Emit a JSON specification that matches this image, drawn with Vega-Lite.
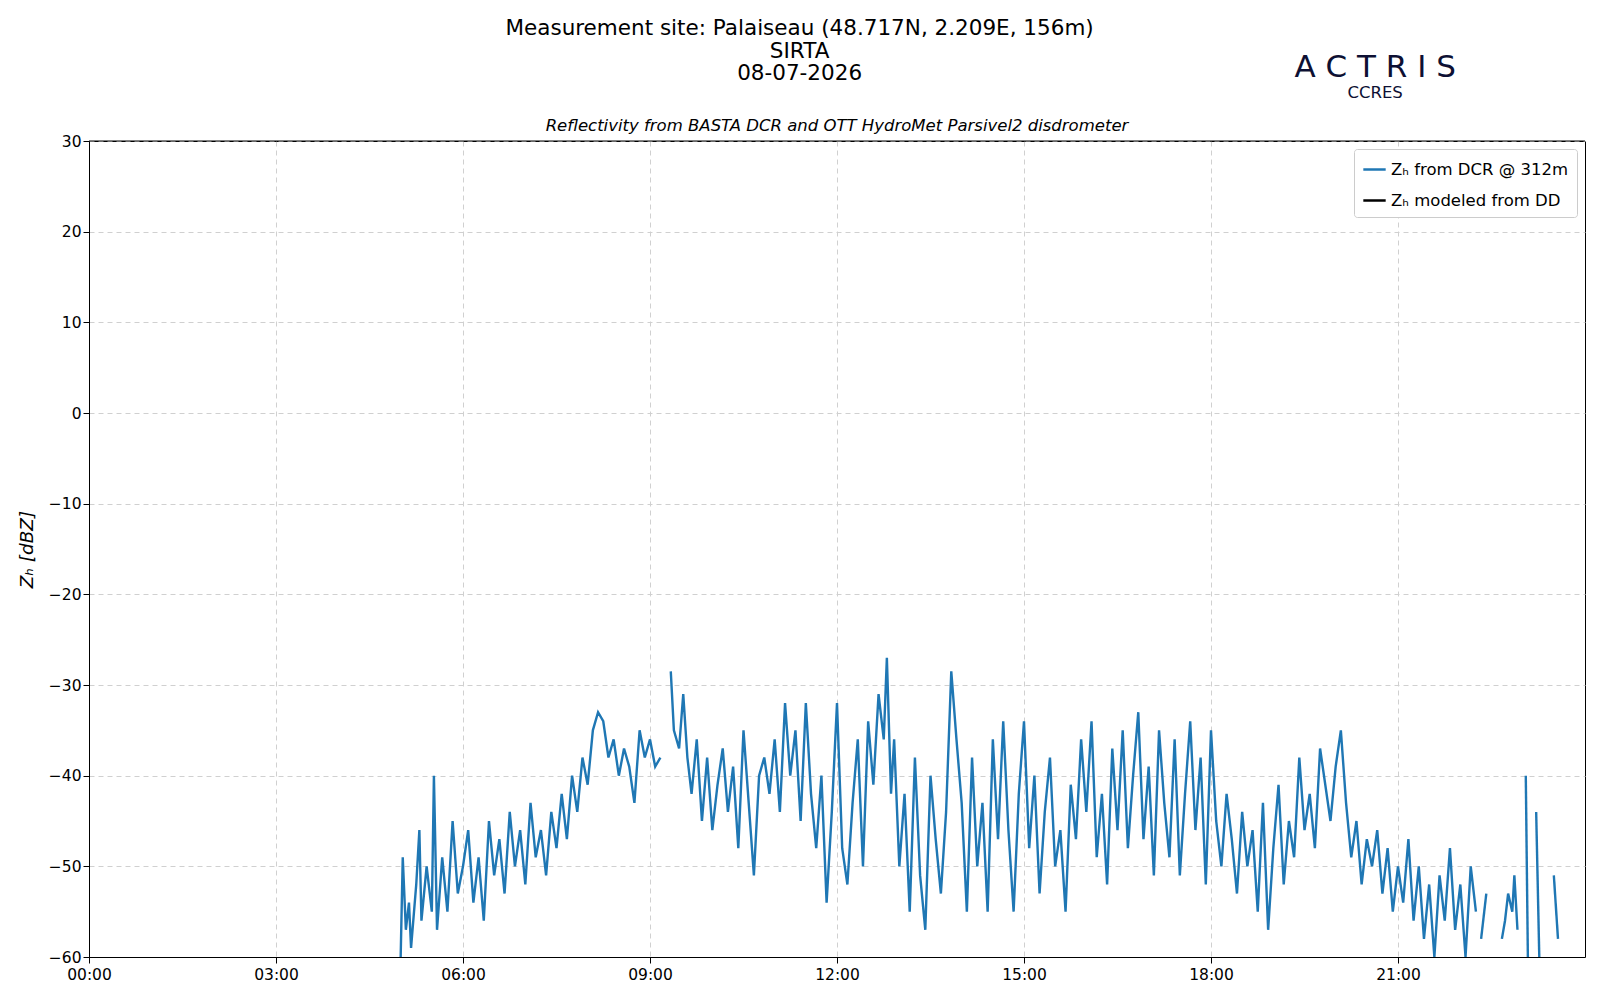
{
  "$schema": "https://vega.github.io/schema/vega-lite/v6.json",
  "width": 1496,
  "height": 816,
  "autosize": {"type": "none"},
  "padding": {"left": 89, "top": 141, "right": 15, "bottom": 43},
  "background": "white",
  "config": {
    "font": "DejaVu Sans",
    "view": {"stroke": "black", "strokeWidth": 1},
    "axis": {"labelFont": "DejaVu Sans", "titleFont": "DejaVu Sans", "labelFontSize": 15.5, "labelColor": "black", "domainColor": "black", "tickColor": "black", "gridColor": "#d0d0d0", "gridDash": [5, 4], "labelFlush": false}
  },
  "datasets": {
    "zh": [
      {"s": 1, "m": 300, "z": -60}, {"s": 1, "m": 302, "z": -49}, {"s": 1, "m": 305, "z": -57}, {"s": 1, "m": 308, "z": -54}, {"s": 1, "m": 310, "z": -59}, {"s": 1, "m": 315, "z": -52}, {"s": 1, "m": 318, "z": -46}, {"s": 1, "m": 320, "z": -56}, {"s": 1, "m": 325, "z": -50}, {"s": 1, "m": 330, "z": -55}, {"s": 1, "m": 332, "z": -40}, {"s": 1, "m": 335, "z": -57}, {"s": 1, "m": 340, "z": -49}, {"s": 1, "m": 345, "z": -55}, {"s": 1, "m": 350, "z": -45}, {"s": 1, "m": 355, "z": -53}, {"s": 1, "m": 360, "z": -50}, {"s": 1, "m": 365, "z": -46}, {"s": 1, "m": 370, "z": -54}, {"s": 1, "m": 375, "z": -49}, {"s": 1, "m": 380, "z": -56}, {"s": 1, "m": 385, "z": -45}, {"s": 1, "m": 390, "z": -51}, {"s": 1, "m": 395, "z": -47}, {"s": 1, "m": 400, "z": -53}, {"s": 1, "m": 405, "z": -44}, {"s": 1, "m": 410, "z": -50}, {"s": 1, "m": 415, "z": -46}, {"s": 1, "m": 420, "z": -52}, {"s": 1, "m": 425, "z": -43}, {"s": 1, "m": 430, "z": -49}, {"s": 1, "m": 435, "z": -46}, {"s": 1, "m": 440, "z": -51}, {"s": 1, "m": 445, "z": -44}, {"s": 1, "m": 450, "z": -48}, {"s": 1, "m": 455, "z": -42}, {"s": 1, "m": 460, "z": -47}, {"s": 1, "m": 465, "z": -40}, {"s": 1, "m": 470, "z": -44}, {"s": 1, "m": 475, "z": -38}, {"s": 1, "m": 480, "z": -41}, {"s": 1, "m": 485, "z": -35}, {"s": 1, "m": 490, "z": -33}, {"s": 1, "m": 495, "z": -34}, {"s": 1, "m": 500, "z": -38}, {"s": 1, "m": 505, "z": -36}, {"s": 1, "m": 510, "z": -40}, {"s": 1, "m": 515, "z": -37}, {"s": 1, "m": 520, "z": -39}, {"s": 1, "m": 525, "z": -43}, {"s": 1, "m": 530, "z": -35}, {"s": 1, "m": 535, "z": -38}, {"s": 1, "m": 540, "z": -36}, {"s": 1, "m": 545, "z": -39}, {"s": 1, "m": 550, "z": -38},
      {"s": 2, "m": 560, "z": -28.5}, {"s": 2, "m": 563, "z": -35}, {"s": 2, "m": 568, "z": -37}, {"s": 2, "m": 572, "z": -31}, {"s": 2, "m": 576, "z": -38}, {"s": 2, "m": 580, "z": -42}, {"s": 2, "m": 585, "z": -36}, {"s": 2, "m": 590, "z": -45}, {"s": 2, "m": 595, "z": -38}, {"s": 2, "m": 600, "z": -46}, {"s": 2, "m": 605, "z": -41}, {"s": 2, "m": 610, "z": -37}, {"s": 2, "m": 615, "z": -44}, {"s": 2, "m": 620, "z": -39}, {"s": 2, "m": 625, "z": -48}, {"s": 2, "m": 630, "z": -35}, {"s": 2, "m": 635, "z": -43}, {"s": 2, "m": 640, "z": -51}, {"s": 2, "m": 645, "z": -40}, {"s": 2, "m": 650, "z": -38}, {"s": 2, "m": 655, "z": -42}, {"s": 2, "m": 660, "z": -36}, {"s": 2, "m": 665, "z": -44}, {"s": 2, "m": 670, "z": -32}, {"s": 2, "m": 675, "z": -40}, {"s": 2, "m": 680, "z": -35}, {"s": 2, "m": 685, "z": -45}, {"s": 2, "m": 690, "z": -32}, {"s": 2, "m": 695, "z": -42}, {"s": 2, "m": 700, "z": -48}, {"s": 2, "m": 705, "z": -40}, {"s": 2, "m": 710, "z": -54}, {"s": 2, "m": 715, "z": -44}, {"s": 2, "m": 720, "z": -32}, {"s": 2, "m": 725, "z": -48}, {"s": 2, "m": 730, "z": -52}, {"s": 2, "m": 735, "z": -43}, {"s": 2, "m": 740, "z": -36}, {"s": 2, "m": 745, "z": -50}, {"s": 2, "m": 750, "z": -34}, {"s": 2, "m": 755, "z": -41}, {"s": 2, "m": 760, "z": -31}, {"s": 2, "m": 765, "z": -36}, {"s": 2, "m": 768, "z": -27}, {"s": 2, "m": 772, "z": -42}, {"s": 2, "m": 775, "z": -36}, {"s": 2, "m": 780, "z": -50}, {"s": 2, "m": 785, "z": -42}, {"s": 2, "m": 790, "z": -55}, {"s": 2, "m": 795, "z": -38}, {"s": 2, "m": 800, "z": -51}, {"s": 2, "m": 805, "z": -57}, {"s": 2, "m": 810, "z": -40}, {"s": 2, "m": 815, "z": -47}, {"s": 2, "m": 820, "z": -53}, {"s": 2, "m": 825, "z": -44}, {"s": 2, "m": 830, "z": -28.5}, {"s": 2, "m": 835, "z": -36}, {"s": 2, "m": 840, "z": -43}, {"s": 2, "m": 845, "z": -55}, {"s": 2, "m": 850, "z": -38}, {"s": 2, "m": 855, "z": -50}, {"s": 2, "m": 860, "z": -43}, {"s": 2, "m": 865, "z": -55}, {"s": 2, "m": 870, "z": -36}, {"s": 2, "m": 875, "z": -47}, {"s": 2, "m": 880, "z": -34}, {"s": 2, "m": 885, "z": -46}, {"s": 2, "m": 890, "z": -55}, {"s": 2, "m": 895, "z": -42}, {"s": 2, "m": 900, "z": -34}, {"s": 2, "m": 905, "z": -48}, {"s": 2, "m": 910, "z": -40}, {"s": 2, "m": 915, "z": -53}, {"s": 2, "m": 920, "z": -44}, {"s": 2, "m": 925, "z": -38}, {"s": 2, "m": 930, "z": -50}, {"s": 2, "m": 935, "z": -46}, {"s": 2, "m": 940, "z": -55}, {"s": 2, "m": 945, "z": -41}, {"s": 2, "m": 950, "z": -47}, {"s": 2, "m": 955, "z": -36}, {"s": 2, "m": 960, "z": -44}, {"s": 2, "m": 965, "z": -34}, {"s": 2, "m": 970, "z": -49}, {"s": 2, "m": 975, "z": -42}, {"s": 2, "m": 980, "z": -52}, {"s": 2, "m": 985, "z": -37}, {"s": 2, "m": 990, "z": -46}, {"s": 2, "m": 995, "z": -35}, {"s": 2, "m": 1000, "z": -48}, {"s": 2, "m": 1005, "z": -40}, {"s": 2, "m": 1010, "z": -33}, {"s": 2, "m": 1015, "z": -47}, {"s": 2, "m": 1020, "z": -39}, {"s": 2, "m": 1025, "z": -51}, {"s": 2, "m": 1030, "z": -35}, {"s": 2, "m": 1035, "z": -43}, {"s": 2, "m": 1040, "z": -49}, {"s": 2, "m": 1045, "z": -36}, {"s": 2, "m": 1050, "z": -51}, {"s": 2, "m": 1055, "z": -42}, {"s": 2, "m": 1060, "z": -34}, {"s": 2, "m": 1065, "z": -46}, {"s": 2, "m": 1070, "z": -38}, {"s": 2, "m": 1075, "z": -52}, {"s": 2, "m": 1080, "z": -35}, {"s": 2, "m": 1085, "z": -45}, {"s": 2, "m": 1090, "z": -50}, {"s": 2, "m": 1095, "z": -42}, {"s": 2, "m": 1100, "z": -47}, {"s": 2, "m": 1105, "z": -53}, {"s": 2, "m": 1110, "z": -44}, {"s": 2, "m": 1115, "z": -50}, {"s": 2, "m": 1120, "z": -46}, {"s": 2, "m": 1125, "z": -55}, {"s": 2, "m": 1130, "z": -43}, {"s": 2, "m": 1135, "z": -57}, {"s": 2, "m": 1140, "z": -48}, {"s": 2, "m": 1145, "z": -41}, {"s": 2, "m": 1150, "z": -52}, {"s": 2, "m": 1155, "z": -45}, {"s": 2, "m": 1160, "z": -49}, {"s": 2, "m": 1165, "z": -38}, {"s": 2, "m": 1170, "z": -46}, {"s": 2, "m": 1175, "z": -42}, {"s": 2, "m": 1180, "z": -48}, {"s": 2, "m": 1185, "z": -37}, {"s": 2, "m": 1190, "z": -41}, {"s": 2, "m": 1195, "z": -45}, {"s": 2, "m": 1200, "z": -39}, {"s": 2, "m": 1205, "z": -35}, {"s": 2, "m": 1210, "z": -43}, {"s": 2, "m": 1215, "z": -49}, {"s": 2, "m": 1220, "z": -45}, {"s": 2, "m": 1225, "z": -52}, {"s": 2, "m": 1230, "z": -47}, {"s": 2, "m": 1235, "z": -50}, {"s": 2, "m": 1240, "z": -46}, {"s": 2, "m": 1245, "z": -53}, {"s": 2, "m": 1250, "z": -48}, {"s": 2, "m": 1255, "z": -55}, {"s": 2, "m": 1260, "z": -50}, {"s": 2, "m": 1265, "z": -54}, {"s": 2, "m": 1270, "z": -47}, {"s": 2, "m": 1275, "z": -56}, {"s": 2, "m": 1280, "z": -50}, {"s": 2, "m": 1285, "z": -58}, {"s": 2, "m": 1290, "z": -52}, {"s": 2, "m": 1295, "z": -60}, {"s": 2, "m": 1300, "z": -51}, {"s": 2, "m": 1305, "z": -56}, {"s": 2, "m": 1310, "z": -48}, {"s": 2, "m": 1315, "z": -57}, {"s": 2, "m": 1320, "z": -52}, {"s": 2, "m": 1325, "z": -60}, {"s": 2, "m": 1330, "z": -50}, {"s": 2, "m": 1335, "z": -55},
      {"s": 3, "m": 1340, "z": -58}, {"s": 3, "m": 1345, "z": -53},
      {"s": 4, "m": 1360, "z": -58}, {"s": 4, "m": 1363, "z": -56}, {"s": 4, "m": 1366, "z": -53}, {"s": 4, "m": 1370, "z": -55}, {"s": 4, "m": 1372, "z": -51}, {"s": 4, "m": 1375, "z": -57},
      {"s": 5, "m": 1383, "z": -40}, {"s": 5, "m": 1385, "z": -60},
      {"s": 6, "m": 1393, "z": -44}, {"s": 6, "m": 1396, "z": -60},
      {"s": 7, "m": 1410, "z": -51}, {"s": 7, "m": 1414, "z": -58}
    ],
    "one": [{}]
  },
  "layer": [
    {
      "data": {"name": "zh"},
      "transform": [{"calculate": "'Zₕ from DCR @ 312m'", "as": "series"}],
      "mark": {"type": "line", "strokeWidth": 2.4, "clip": true},
      "encoding": {
        "x": {"field": "m", "type": "quantitative", "scale": {"domain": [0, 1440], "nice": false, "zero": false},
          "axis": {"title": null, "values": [0, 180, 360, 540, 720, 900, 1080, 1260], "labelExpr": "(floor(datum.value/60) < 10 ? '0' : '') + floor(datum.value/60) + ':00'", "grid": true, "tickSize": 6, "labelPadding": 4}},
        "y": {"field": "z", "type": "quantitative", "scale": {"domain": [-60, 30], "nice": false},
          "axis": {"title": "Zₕ [dBZ]", "titleFontSize": 18.5, "titleFontStyle": "italic", "titleFontWeight": "normal", "titlePadding": 12, "values": [-60, -50, -40, -30, -20, -10, 0, 10, 20, 30], "labelExpr": "replace(datum.label, '-', '−')", "grid": true, "tickSize": 6}},
        "detail": {"field": "s"},
        "color": {"field": "series", "type": "nominal",
          "scale": {"domain": ["Zₕ from DCR @ 312m", "Zₕ modeled from DD"], "range": ["#1f77b4", "black"]},
          "legend": {"title": null, "orient": "top-right", "offset": 8, "symbolType": "stroke", "symbolStrokeWidth": 2.5, "symbolSize": 500, "labelFontSize": 16.5, "labelLimit": 0, "labelFont": "DejaVu Sans", "strokeColor": "#cccccc", "fillColor": "white", "padding": 8, "rowPadding": 10, "cornerRadius": 3}}
      }
    },
    {
      "data": {"name": "one"},
      "mark": {"type": "rule", "color": "black", "strokeWidth": 1.2},
      "encoding": {"y": {"datum": 30}}
    },
    {
      "data": {"name": "one"},
      "mark": {"type": "text", "fontSize": 21.5, "lineHeight": 22.5, "clip": false, "baseline": "middle", "align": "center", "lineBreak": "\n", "font": "DejaVu Sans", "color": "black"},
      "encoding": {
        "x": {"datum": 684},
        "y": {"datum": 42.3},
        "text": {"value": "Measurement site: Palaiseau (48.717N, 2.209E, 156m)\nSIRTA\n08-07-2026"}
      }
    },
    {
      "data": {"name": "one"},
      "mark": {"type": "text", "fontSize": 16.5, "fontStyle": "italic", "clip": false, "baseline": "middle", "align": "center", "font": "DejaVu Sans", "color": "black"},
      "encoding": {
        "x": {"datum": 720},
        "y": {"datum": 31.7},
        "text": {"value": "Reflectivity from BASTA DCR and OTT HydroMet Parsivel2 disdrometer"}
      }
    },
    {
      "data": {"name": "one"},
      "mark": {"type": "text", "fontSize": 31, "clip": false, "align": "center", "baseline": "middle", "color": "#0d1033", "font": "DejaVu Sans"},
      "encoding": {"x": {"datum": 1238}, "y": {"datum": 38.1}, "text": {"value": "A C T R I S"}}
    },
    {
      "data": {"name": "one"},
      "mark": {"type": "text", "fontSize": 16.5, "clip": false, "align": "center", "baseline": "middle", "color": "#0d1033", "font": "DejaVu Sans"},
      "encoding": {"x": {"datum": 1238}, "y": {"datum": 35.3}, "text": {"value": "CCRES"}}
    }
  ]
}
